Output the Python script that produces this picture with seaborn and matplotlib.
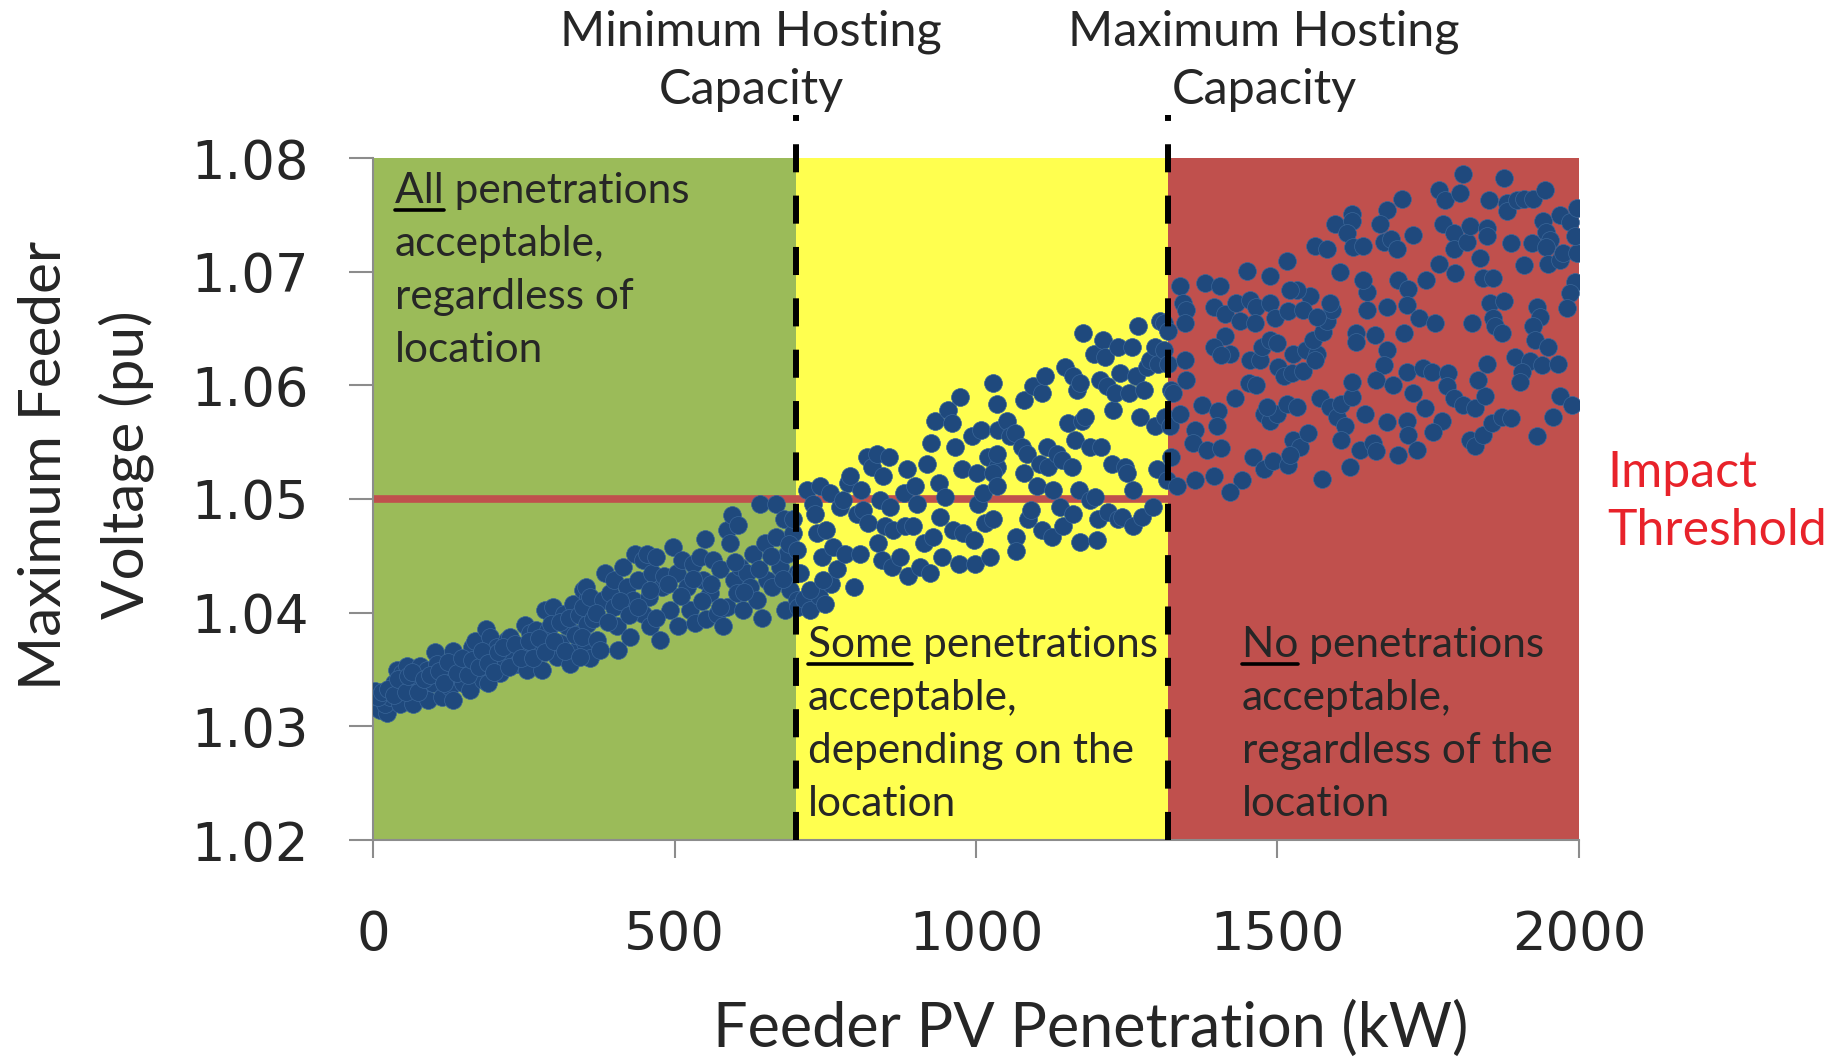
import matplotlib
matplotlib.use("Agg")
import matplotlib.pyplot as plt
from matplotlib.lines import Line2D
import seaborn as sns
import pandas as pd

# ---------------- data ----------------
kw_green_a = [3, 6, 1, 12, 23, 20, 28, 34, 39, 48, 50, 45, 56, 61, 67, 72, 78, 84, 89, 92,
              100, 103, 106, 111, 114, 122, 128, 132, 133, 139, 144, 150, 155, 161, 164, 169, 172, 177, 183, 187,
              191, 194, 200, 205, 211, 216, 222, 227, 233, 238, 249, 252, 255, 260, 266, 271, 277, 281, 285, 291,
              299, 305, 310, 316, 321, 327, 332, 338, 343, 349, 352, 357]
pu_green_a = [1.0331, 1.0323, 1.0317, 1.0314, 1.0312, 1.0320, 1.0326, 1.0338, 1.0350, 1.0347,
              1.0335, 1.0320, 1.0353, 1.0338, 1.0320, 1.0344, 1.0353, 1.0335, 1.0350, 1.0323,
              1.0338, 1.0365, 1.0355, 1.0344, 1.0326, 1.0350, 1.0335, 1.0366, 1.0323, 1.0355,
              1.0344, 1.0338, 1.0353, 1.0332, 1.0370, 1.0375, 1.0350, 1.0361, 1.0341, 1.0386,
              1.0338, 1.0379, 1.0361, 1.0370, 1.0347, 1.0358, 1.0376, 1.0379, 1.0361, 1.0355,
              1.0367, 1.0389, 1.0350, 1.0382, 1.0373, 1.0385, 1.0367, 1.0350, 1.0402, 1.0385,
              1.0405, 1.0361, 1.0373, 1.0399, 1.0388, 1.0355, 1.0408, 1.0367, 1.0382, 1.0420,
              1.0373, 1.0414]
kw_green_b = [8, 15, 25, 35, 42, 55, 58, 65, 75, 85, 95, 110, 118, 125, 140, 148, 158, 165, 175, 180,
              190, 200, 208, 215, 225, 235, 245, 258, 265, 275, 285, 295, 300, 310, 318, 325, 335, 342, 355, 360]
pu_green_b = [1.0326, 1.0330, 1.0333, 1.0328, 1.0342, 1.0330, 1.0344, 1.0348, 1.0330, 1.0342,
              1.0345, 1.0349, 1.0338, 1.0357, 1.0347, 1.0360, 1.0345, 1.0358, 1.0352, 1.0366,
              1.0356, 1.0348, 1.0365, 1.0370, 1.0352, 1.0372, 1.0360, 1.0375, 1.0360, 1.0378,
              1.0365, 1.0390, 1.0375, 1.0392, 1.0366, 1.0395, 1.0380, 1.0398, 1.0390, 1.0360]
kw_green_c = [343, 354, 349, 346, 360, 365, 371, 377, 382, 385, 393, 399, 399, 404, 407, 415, 421, 426, 432, 435,
              440, 448, 448, 454, 457, 459, 462, 470, 476, 479, 482, 493, 498, 504, 506, 512, 520, 526, 531, 534,
              542, 548, 551, 553, 559, 564, 570, 576, 581, 587, 587, 592, 595, 598, 603, 606, 609, 614, 620, 625,
              631, 636, 642, 645, 650, 653, 661, 669, 669, 675, 681, 683, 686, 692, 697, 703, 703]
pu_green_c = [1.0361, 1.0423, 1.0405, 1.0379, 1.0414, 1.0394, 1.0376, 1.0367, 1.0411, 1.0435,
              1.0417, 1.0429, 1.0405, 1.0388, 1.0367, 1.0440, 1.0423, 1.0379, 1.0411, 1.0452,
              1.0429, 1.0446, 1.0399, 1.0452, 1.0414, 1.0388, 1.0435, 1.0449, 1.0376, 1.0423,
              1.0432, 1.0402, 1.0458, 1.0435, 1.0388, 1.0446, 1.0423, 1.0402, 1.0443, 1.0391,
              1.0449, 1.0429, 1.0465, 1.0394, 1.0417, 1.0446, 1.0399, 1.0438, 1.0388, 1.0405,
              1.0473, 1.0461, 1.0486, 1.0429, 1.0417, 1.0477, 1.0440, 1.0402, 1.0435, 1.0423,
              1.0452, 1.0411, 1.0496, 1.0395, 1.0461, 1.0429, 1.0423, 1.0496, 1.0467, 1.0440,
              1.0482, 1.0402, 1.0452, 1.0420, 1.0470, 1.0435, 1.0411]
kw_green_d = [370, 390, 410, 425, 440, 460, 470, 490, 510, 530, 545, 560, 575, 600, 615, 640, 660, 680, 690, 705,
              715, 725, 740, 760, 750]
pu_green_d = [1.0400, 1.0392, 1.0410, 1.0398, 1.0405, 1.0420, 1.0395, 1.0425, 1.0415, 1.0430,
              1.0410, 1.0425, 1.0405, 1.0445, 1.0418, 1.0438, 1.0450, 1.0430, 1.0460, 1.0405,
              1.0412, 1.0402, 1.0415, 1.0425, 1.0408]
kw_yellow_a = [697, 703, 708, 719, 725, 730, 733, 736, 741, 744, 747, 752, 758, 763, 769, 774, 780, 783, 788, 791,
               797, 802, 808, 810, 813, 819, 821, 827, 835, 838, 841, 844, 846, 849, 855, 857, 860, 863, 874, 880,
               882, 885, 888, 896, 899, 902, 907, 913, 918, 924, 926, 929, 932, 938, 940, 943, 949, 954, 960, 962,
               965, 971, 973, 976, 979, 993, 996, 998, 1001, 1004, 1009, 1012, 1015, 1020, 1023, 1029, 1029, 1034,
               1034, 1037]
pu_yellow_a = [1.0482, 1.0455, 1.0435, 1.0508, 1.0420, 1.0496, 1.0487, 1.0470, 1.0511, 1.0449,
               1.0429, 1.0473, 1.0505, 1.0458, 1.0438, 1.0493, 1.0499, 1.0452, 1.0514, 1.0520,
               1.0423, 1.0487, 1.0452, 1.0508, 1.0490, 1.0537, 1.0479, 1.0528, 1.0540, 1.0461,
               1.0499, 1.0446, 1.0520, 1.0476, 1.0537, 1.0493, 1.0440, 1.0473, 1.0449, 1.0505,
               1.0476, 1.0526, 1.0432, 1.0476, 1.0511, 1.0496, 1.0440, 1.0461, 1.0531, 1.0435,
               1.0549, 1.0467, 1.0569, 1.0514, 1.0484, 1.0449, 1.0502, 1.0578, 1.0567, 1.0473,
               1.0546, 1.0443, 1.0590, 1.0526, 1.0470, 1.0555, 1.0464, 1.0443, 1.0523, 1.0496,
               1.0561, 1.0505, 1.0479, 1.0537, 1.0449, 1.0602, 1.0482, 1.0584, 1.0528, 1.0561]
kw_yellow_b = [1034, 1029, 1034, 1051, 1056, 1065, 1067, 1067, 1076, 1079, 1079, 1084, 1087, 1092, 1095, 1101,
               1106, 1109, 1109, 1114, 1117, 1120, 1126, 1128, 1134, 1139, 1142, 1145, 1148, 1153, 1159, 1161,
               1161, 1164, 1167, 1170, 1173, 1173, 1175, 1178, 1181, 1189, 1189, 1195, 1197, 1200, 1203, 1206,
               1208, 1211, 1214, 1217, 1219, 1225, 1228, 1231, 1236, 1236, 1239, 1242, 1247, 1250, 1253, 1258,
               1261, 1261, 1266, 1269, 1272, 1275, 1278, 1283, 1289, 1294, 1297, 1297, 1300, 1302, 1305, 1311]
pu_yellow_b = [1.0540, 1.0523, 1.0511, 1.0569, 1.0555, 1.0558, 1.0467, 1.0454, 1.0546, 1.0587,
               1.0523, 1.0540, 1.0482, 1.0490, 1.0599, 1.0511, 1.0531, 1.0593, 1.0473, 1.0608,
               1.0546, 1.0528, 1.0467, 1.0508, 1.0540, 1.0493, 1.0534, 1.0476, 1.0616, 1.0567,
               1.0528, 1.0608, 1.0487, 1.0552, 1.0596, 1.0508, 1.0462, 1.0602, 1.0569, 1.0646,
               1.0572, 1.0499, 1.0546, 1.0628, 1.0502, 1.0464, 1.0482, 1.0605, 1.0546, 1.0640,
               1.0625, 1.0599, 1.0489, 1.0531, 1.0578, 1.0593, 1.0634, 1.0482, 1.0611, 1.0484,
               1.0528, 1.0523, 1.0593, 1.0634, 1.0508, 1.0476, 1.0608, 1.0652, 1.0572, 1.0484,
               1.0596, 1.0616, 1.0622, 1.0493, 1.0564, 1.0634, 1.0526, 1.0619, 1.0657, 1.0655]
kw_red_a = [1318, 1311, 1319, 1324, 1313, 1322, 1324, 1316,
            1338, 1344, 1349, 1347, 1347, 1349, 1327, 1338, 1333, 1380, 1405, 1394, 1413, 1432, 1438, 1454,
            1465, 1488, 1463, 1496, 1518, 1488, 1449, 1515, 1413, 1394, 1421, 1407, 1454, 1471, 1474, 1488,
            1499, 1501, 1510, 1526, 1524, 1543, 1548, 1565, 1562, 1559, 1576, 1582, 1590, 1587, 1554, 1532,
            1521, 1543, 1565, 1452, 1465, 1430, 1374, 1402, 1363, 1360, 1399, 1383, 1407, 1477, 1488, 1499,
            1515, 1532, 1482, 1526, 1537, 1551, 1460, 1477, 1493, 1518, 1521, 1363, 1394, 1441, 1421, 1573,
            1570, 1587, 1598, 1612, 1606, 1623, 1623, 1606, 1620, 1637, 1645, 1562, 1582, 1595, 1623, 1623,
            1615, 1626, 1642, 1604, 1631, 1631, 1648, 1642, 1648]
pu_red_a = [1.0648, 1.0631, 1.0619, 1.0596, 1.0572, 1.0564, 1.0537, 1.0517,
            1.0687, 1.0672, 1.0666, 1.0655, 1.0622, 1.0605, 1.0593, 1.0575, 1.0511, 1.0690, 1.0687, 1.0669,
            1.0663, 1.0672, 1.0657, 1.0675, 1.0669, 1.0672, 1.0655, 1.0659, 1.0665, 1.0696, 1.0701, 1.0709,
            1.0643, 1.0634, 1.0628, 1.0627, 1.0622, 1.0622, 1.0634, 1.0640, 1.0637, 1.0616, 1.0608, 1.0628,
            1.0611, 1.0613, 1.0631, 1.0628, 1.0622, 1.0640, 1.0647, 1.0657, 1.0666, 1.0672, 1.0679, 1.0684,
            1.0684, 1.0666, 1.0660, 1.0602, 1.0600, 1.0589, 1.0583, 1.0577, 1.0561, 1.0549, 1.0564, 1.0543,
            1.0545, 1.0575, 1.0569, 1.0575, 1.0584, 1.0581, 1.0581, 1.0552, 1.0546, 1.0558, 1.0537, 1.0526,
            1.0533, 1.0530, 1.0539, 1.0517, 1.0520, 1.0517, 1.0506, 1.0518, 1.0589, 1.0581, 1.0572, 1.0564,
            1.0584, 1.0590, 1.0603, 1.0552, 1.0528, 1.0543, 1.0575, 1.0723, 1.0720, 1.0742, 1.0751, 1.0745,
            1.0734, 1.0722, 1.0723, 1.0700, 1.0646, 1.0638, 1.0682, 1.0693, 1.0666]
kw_red_b = [1808, 1875, 1706, 1681, 1767, 1778, 1803, 1850, 1880, 1880, 1897, 1908, 1924, 1944, 1969, 1985,
            1996, 1670, 1676, 1689, 1698, 1725, 1775, 1792, 1792, 1814, 1819, 1847, 1847, 1836, 1888, 1922,
            1941, 1946, 1952, 1946, 1908, 1767, 1794, 1949, 1969, 1974, 1996, 1993, 1993, 1985, 1980, 1841,
            1858, 1700, 1717, 1747, 1681, 1714, 1734, 1761, 1822, 1852, 1875, 1858, 1861, 1872, 1930, 1935,
            1924, 1927, 1949, 1709, 1662, 1681, 1676, 1894, 1919, 1938, 1966, 1905, 1902, 1714, 1742, 1756,
            1783, 1781, 1792, 1808, 1828, 1844, 1833, 1847, 1664, 1692, 1725, 1745, 1772, 1758, 1681, 1714,
            1717, 1731, 1700, 1659, 1664, 1819, 1828, 1841, 1855, 1872, 1888, 1957, 1930, 1969, 1988]
pu_red_b = [1.0786, 1.0782, 1.0764, 1.0754, 1.0772, 1.0763, 1.0769, 1.0763, 1.0760, 1.0753, 1.0763, 1.0764,
            1.0764, 1.0772, 1.0750, 1.0744, 1.0756, 1.0742, 1.0726, 1.0729, 1.0720, 1.0732, 1.0742, 1.0734,
            1.0720, 1.0726, 1.0740, 1.0738, 1.0731, 1.0712, 1.0725, 1.0725, 1.0745, 1.0735, 1.0728, 1.0722,
            1.0706, 1.0707, 1.0699, 1.0707, 1.0710, 1.0716, 1.0716, 1.0731, 1.0691, 1.0681, 1.0668, 1.0694,
            1.0694, 1.0693, 1.0685, 1.0693, 1.0669, 1.0671, 1.0659, 1.0655, 1.0655, 1.0672, 1.0674, 1.0659,
            1.0652, 1.0646, 1.0669, 1.0660, 1.0652, 1.0640, 1.0634, 1.0646, 1.0644, 1.0631, 1.0618, 1.0625,
            1.0621, 1.0618, 1.0619, 1.0612, 1.0603, 1.0612, 1.0615, 1.0612, 1.0611, 1.0599, 1.0589, 1.0583,
            1.0580, 1.0591, 1.0605, 1.0619, 1.0605, 1.0600, 1.0593, 1.0580, 1.0569, 1.0559, 1.0568, 1.0569,
            1.0556, 1.0543, 1.0539, 1.0549, 1.0542, 1.0552, 1.0547, 1.0556, 1.0567, 1.0572, 1.0571, 1.0572,
            1.0555, 1.0591, 1.0583]

penetration_kw = (kw_green_a + kw_green_b + kw_green_c + kw_green_d + kw_yellow_a + kw_yellow_b
                  + kw_red_a + kw_red_b)
max_voltage_pu = (pu_green_a + pu_green_b + pu_green_c + pu_green_d + pu_yellow_a + pu_yellow_b
                  + pu_red_a + pu_red_b)

x_ticks = [0, 500, 1000, 1500, 2000]
x_tick_labels = ["0", "500", "1000", "1500", "2000"]
y_ticks = [1.02, 1.03, 1.04, 1.05, 1.06, 1.07, 1.08]
y_tick_labels = ["1.02", "1.03", "1.04", "1.05", "1.06", "1.07", "1.08"]
min_hosting_kw = 701
max_hosting_kw = 1319
impact_threshold_pu = 1.05

region_left = ["All penetrations", "acceptable,", "regardless of", "location"]
region_mid = ["Some penetrations", "acceptable,", "depending on the", "location"]
region_right = ["No penetrations", "acceptable,", "regardless of the", "location"]

df = pd.DataFrame({"kW": penetration_kw, "pu": max_voltage_pu})

# ---------------- figure ----------------
W, H = 1849, 1057
sns.set_theme(style="white")
plt.rcParams["font.family"] = ["Lato", "DejaVu Sans"]

fig = plt.figure(figsize=(W / 100, H / 100), dpi=100)
fig.patch.set_facecolor("white")
ax = fig.add_axes([373 / W, 1 - 840 / H, (1579 - 373) / W, (840 - 158) / H])

GREEN, YELLOW, RED = "#9BBB59", "#FFFF4F", "#C0504D"
ax.axvspan(0, min_hosting_kw, color=GREEN, zorder=0, lw=0)
ax.axvspan(min_hosting_kw, max_hosting_kw, color=YELLOW, zorder=0, lw=0)
ax.axvspan(max_hosting_kw, 2000, color=RED, zorder=0, lw=0)
ax.axhline(impact_threshold_pu, color=RED, lw=5.5, zorder=2)

sns.scatterplot(data=df, x="kW", y="pu", ax=ax, s=165, color="#1F497D",
                edgecolor="#3A6699", linewidth=0.5, zorder=3, legend=False)

for xv in (min_hosting_kw, max_hosting_kw):
    ax.plot([xv, xv], [1.02, 1.0838], color="black", lw=4.3,
            ls=(0, (4.7, 3.9)), clip_on=False, zorder=4)

ax.set_xlim(0, 2000)
ax.set_ylim(1.02, 1.08)
ax.set_xticks(x_ticks)
ax.set_xticklabels(x_tick_labels, fontfamily="DejaVu Sans", fontsize=38)
ax.set_yticks(y_ticks)
ax.set_yticklabels(y_tick_labels, fontfamily="DejaVu Sans", fontsize=38)
ax.tick_params(axis="x", direction="out", length=13, width=1.5, color="#8C8C8C", pad=37, bottom=True)
ax.tick_params(axis="y", direction="out", length=17, width=1.5, color="#8C8C8C", pad=29, left=True)
ax.set_xlabel("")
ax.set_ylabel("")
for side in ("top", "right"):
    ax.spines[side].set_visible(False)
for side in ("left", "bottom"):
    ax.spines[side].set_color("#8C8C8C")
    ax.spines[side].set_linewidth(1.5)
ax.grid(False)


def fx(px):
    return px / W


def fy(py):
    return 1 - py / H


# axis titles
fig.text(fx(713), fy(1047), "Feeder PV Penetration (kW)", fontsize=44, ha="left", va="baseline")
fig.text(fx(61), fy(690), "Maximum Feeder", fontsize=42, rotation=90, rotation_mode="anchor",
         ha="left", va="baseline")
fig.text(fx(144), fy(619), "Voltage (pu)", fontsize=42, rotation=90, rotation_mode="anchor",
         ha="left", va="baseline")

# top labels
for cx, l1 in ((751, "Minimum Hosting"), (1264, "Maximum Hosting")):
    fig.text(fx(cx), fy(45), l1, fontsize=35, ha="center", va="baseline")
    fig.text(fx(cx), fy(104), "Capacity", fontsize=35, ha="center", va="baseline")

# impact threshold
fig.text(fx(1607), fy(487), "Impact", fontsize=36, color="#E8222A", ha="left", va="baseline")
fig.text(fx(1607), fy(545), "Threshold", fontsize=36, color="#E8222A", ha="left", va="baseline")

# region descriptions
fig.canvas.draw()
renderer = fig.canvas.get_renderer()


def region_text(x_px, baselines, lines, size=30.5):
    for i, (b, s) in enumerate(zip(baselines, lines)):
        fig.text(fx(x_px), fy(b), s, fontsize=size, ha="left", va="baseline")
        if i == 0:
            word = s.split(" ")[0]
            tmp = fig.text(fx(x_px), fy(b), word, fontsize=size, ha="left", va="baseline")
            bb = tmp.get_window_extent(renderer)
            tmp.remove()
            uy = fy(b + 7)
            fig.add_artist(Line2D([bb.x0 / W, bb.x1 / W], [uy, uy], transform=fig.transFigure,
                                  color="black", lw=2.6))


region_text(395, [203, 256, 309, 362], region_left)
region_text(808, [657, 710, 763, 816], region_mid)
region_text(1242, [657, 710, 763, 816], region_right)

fig.savefig("out.png", dpi=100)
